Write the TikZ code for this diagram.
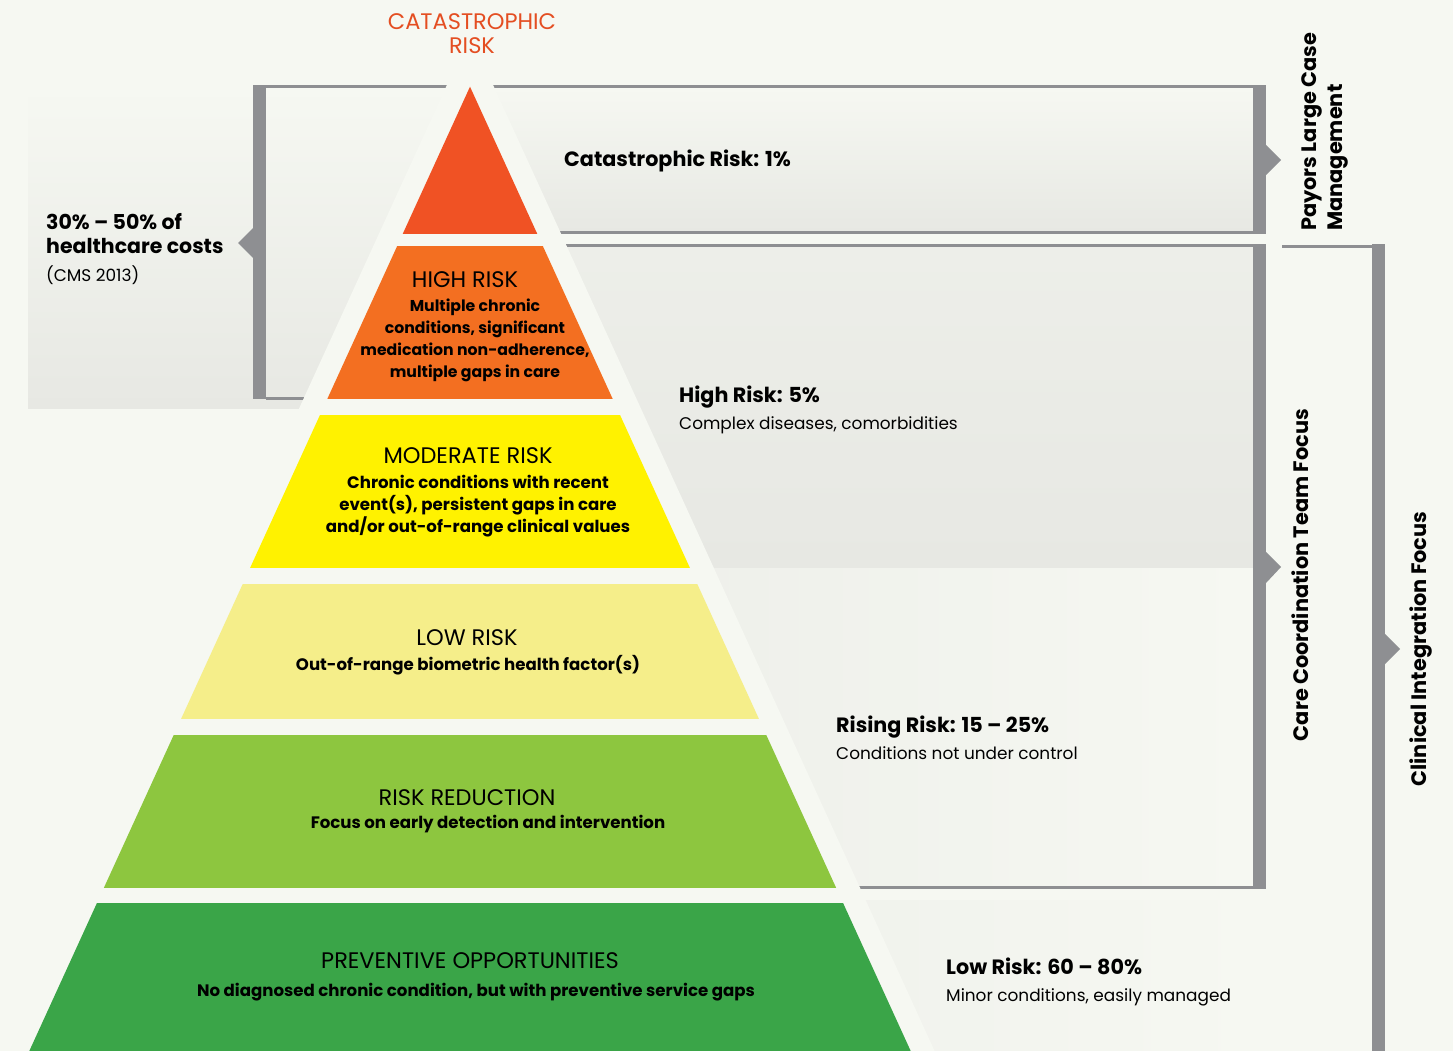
\documentclass[tikz,border=0pt]{standalone}
\usepackage{fontspec}
\usepackage{tikz}
\setmainfont{Poppins}

\definecolor{bgpaper}{HTML}{F6F8F2}
\definecolor{panelgray}{HTML}{E7E8E3}
\definecolor{bargray}{HTML}{8E8F92}
\definecolor{catred}{HTML}{F05224}
\definecolor{highorange}{HTML}{F36F21}
\definecolor{modyellow}{HTML}{FFF200}
\definecolor{lowyellow}{HTML}{F5EE8A}
\definecolor{reducegreen}{HTML}{8DC63F}
\definecolor{prevgreen}{HTML}{3AA548}

\begin{document}
\begin{tikzpicture}[
        x=1pt, y=-1pt,
        tiertitle/.style={
            font=\fontsize{22.5}{24}\selectfont,
            inner sep=0,
            align=center
        },
        tierdesc/.style={
            font=\fontsize{16.6}{22}\selectfont\bfseries,
            inner sep=0,
            align=center
        },
        risklabel/.style={
            font=\fontsize{20.7}{24}\selectfont\bfseries,
            anchor=base west,
            inner sep=0
        },
        riskdesc/.style={
            font=\fontsize{16.9}{20}\selectfont,
            anchor=base west,
            inner sep=0
        },
        focuslabel/.style={
            font=\fontsize{20.9}{26}\selectfont\bfseries,
            rotate=90,
            inner sep=0,
            align=left
        },
        thinline/.style={
            draw=bargray,
            line width=3
        }
    ]
        \useasboundingbox (0,0) rectangle (1453,1051);
        \fill[bgpaper] (0,0) rectangle (1453,1051);

        % Shaded panels
        \shade[top color=bgpaper, bottom color=panelgray] (28,86) rectangle (480,408);
        \shade[top color=bgpaper, bottom color=panelgray] (470,87) rectangle (1253,232);
        \shade[top color=bgpaper!40!panelgray, bottom color=panelgray] (470,245) rectangle (1253,568);
        \shade[left color=panelgray!70!bgpaper, right color=bgpaper] (470,568) rectangle (1253,887);
        \shade[left color=panelgray!70!bgpaper, right color=bgpaper] (470,900) rectangle (1255,1051);

        % Thin bracket lines
        \draw[thinline] (266,87) -- (1253,87);
        \draw[thinline] (470,232) -- (1253,232);
        \draw[thinline] (470,245) -- (1253,245);
        \draw[thinline] (470,887) -- (1253,887);
        \draw[thinline] (266,398) -- (400,398);
        \draw[thinline] (1282,246) -- (1372,246);

        % White band round the pyramid
        \fill[bgpaper] (470,34.5) -- (5.4,1051) -- (934.6,1051) -- cycle;

        % Pyramid tiers
        \begin{scope}
            \clip (470,86.7) -- (29.3,1051) -- (910.7,1051) -- cycle;
            \fill[catred] (0,80) rectangle (1453,234);
            \fill[highorange] (0,246) rectangle (1453,399);
            \fill[modyellow] (0,415) rectangle (1453,568);
            \fill[lowyellow] (0,584) rectangle (1453,719);
            \fill[reducegreen] (0,735) rectangle (1453,888);
            \fill[prevgreen] (0,903) rectangle (1453,1051);
        \end{scope}

        % Bars and pointers
        \fill[bargray] (253,85) rectangle (266,399);
        \fill[bargray] (253,228) -- (238,243) -- (253,258) -- cycle;
        \fill[bargray] (1253,85) rectangle (1266,234);
        \fill[bargray] (1266,145) -- (1281,160) -- (1266,175) -- cycle;
        \fill[bargray] (1253,244) rectangle (1266,889);
        \fill[bargray] (1266,552) -- (1281,567) -- (1266,583) -- cycle;
        \fill[bargray] (1372,244) rectangle (1385,1051);
        \fill[bargray] (1385,634) -- (1400,649) -- (1385,664) -- cycle;

        % Top title
        \node[tiertitle, text=catred!95!black] (cattitle) at (472,34) {CATASTROPHIC\\RISK};

        % Costs note
        \node[font=\fontsize{20.5}{24}\selectfont\bfseries, anchor=base west, inner sep=0, align=left] (costs) at (46,253) {30\% – 50\% of\\healthcare costs};
        \node[riskdesc] (cms) at (46,281) {(CMS 2013)};

        % Tier texts
        \node[tiertitle] (hightitle) at (465,280) {HIGH RISK};
        \node[tierdesc, font=\fontsize{15.7}{22}\selectfont\bfseries] (highdesc) at (475,340) {Multiple chronic\\conditions, significant\\medication non-adherence,\\multiple gaps in care};
        \node[tiertitle] (modtitle) at (468,456) {MODERATE RISK};
        \node[tierdesc] (moddesc) at (478,506) {Chronic conditions with recent\\event(s), persistent gaps in care\\and/or out-of-range clinical values};
        \node[tiertitle] (lowtitle) at (467,638) {LOW RISK};
        \node[tierdesc] (lowdesc) at (468,665) {Out-of-range biometric health factor(s)};
        \node[tiertitle] (reducetitle) at (467,798) {RISK REDUCTION};
        \node[tierdesc] (reducedesc) at (488,824) {Focus on early detection and intervention};
        \node[tiertitle] (prevtitle) at (470,961) {PREVENTIVE OPPORTUNITIES};
        \node[tierdesc] (prevdesc) at (476,992) {No diagnosed chronic condition, but with preventive service gaps};

        % Share labels
        \node[risklabel] (catshare) at (564,167) {Catastrophic Risk: 1\%};
        \node[risklabel] (highshare) at (679,402) {High Risk: 5\%};
        \node[riskdesc] (highnote) at (679,429) {Complex diseases, comorbidities};
        \node[risklabel] (risingshare) at (836,732) {Rising Risk: 15 – 25\%};
        \node[riskdesc] (risingnote) at (836,759) {Conditions not under control};
        \node[risklabel] (lowshare) at (946,974) {Low Risk: 60 – 80\%};
        \node[riskdesc] (lownote) at (946,1001) {Minor conditions, easily managed};

        % Focus labels
        \node[focuslabel, anchor=north west] (payors) at (1301,231) {Payors Large Case\\Management};
        \node[focuslabel] (carefocus) at (1300,575) {Care Coordination Team Focus};
        \node[focuslabel] (clinfocus) at (1421,649) {Clinical Integration Focus};

    \end{tikzpicture}
\end{document}
